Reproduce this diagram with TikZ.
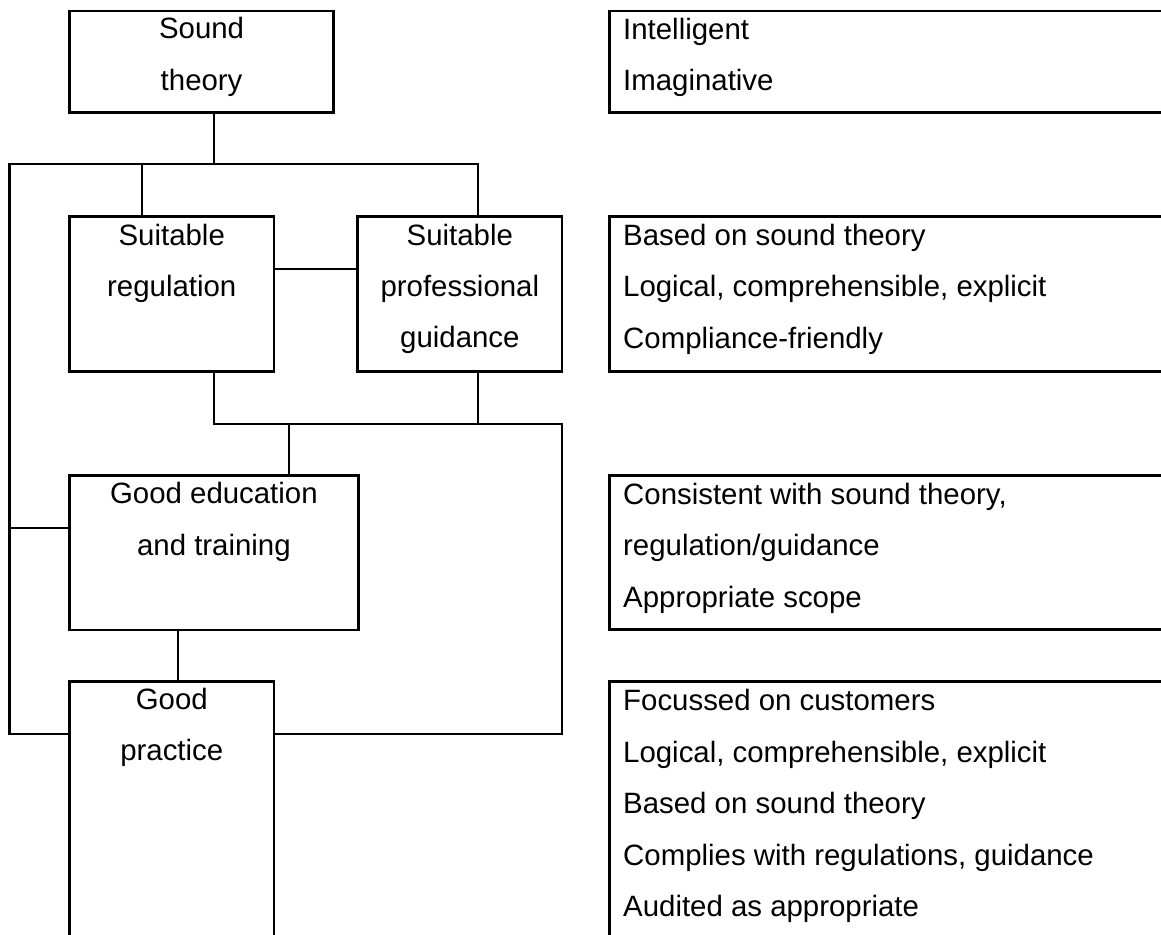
\documentclass[tikz,border=0pt]{standalone}
\usepackage{fontspec}
\setmainfont{Liberation Sans}
\begin{document}
\begin{tikzpicture}[x=1pt,y=-1pt,
  box/.style={draw, line width=2.5pt, rectangle, inner sep=0pt, outer sep=0pt, anchor=north west},
  ctext/.style={anchor=north, align=center, inner sep=0pt, font=\fontsize{29.4}{51.3}\selectfont},
  ltext/.style={anchor=north west, align=left, inner sep=0pt, font=\fontsize{29.4}{51.4}\selectfont},
  conn/.style={line width=2.5pt}]
\useasboundingbox (0,0) rectangle (1161,934);
\clip (0,0) rectangle (1161,934);

% left boxes
\node[box, minimum width=264.2pt, minimum height=101.7pt] (st)  at (69.5,11) {};
\node[box, minimum width=204.5pt, minimum height=155pt]   (reg) at (69.5,216.7) {};
\node[box, minimum width=204.3pt, minimum height=155pt]   (gd)  at (357.7,216.7) {};
\node[box, minimum width=288.8pt, minimum height=154.3pt] (edu) at (69.5,475.7) {};
\node[box, minimum width=204.5pt, minimum height=400pt]   (gp)  at (69.5,681.3) {};

% right boxes (run off the page)
\node[box, minimum width=700pt, minimum height=101.7pt] (r1) at (609.7,11) {};
\node[box, minimum width=700pt, minimum height=154.8pt] (r2) at (609.7,216.7) {};
\node[box, minimum width=700pt, minimum height=153.8pt] (r3) at (609.7,475.7) {};
\node[box, minimum width=700pt, minimum height=400pt]   (r4) at (609.7,681.7) {};

% texts
\node[ctext] (stT)  at (st.north)  {\rule{0pt}{27.6pt}Sound\\theory};
\node[ctext] (regT) at (reg.north) {\rule{0pt}{28.2pt}Suitable\\regulation};
\node[ctext] (gdT)  at (gd.north)  {\rule{0pt}{28.2pt}Suitable\\professional\\guidance};
\node[ctext] (eduT) at (edu.north) {\rule{0pt}{27.8pt}Good education\\and training};
\node[ctext] (gpT)  at (gp.north)  {\rule{0pt}{28pt}Good\\practice};

\node[ltext] (r1T) at ([xshift=13.3pt]r1.north west) {\rule{0pt}{28.3pt}Intelligent\\Imaginative};
\node[ltext] (r2T) at ([xshift=13.3pt]r2.north west) {\rule{0pt}{28.4pt}Based on sound theory\\Logical, comprehensible, explicit\\Compliance-friendly};
\node[ltext] (r3T) at ([xshift=13.3pt]r3.north west) {\rule{0pt}{28.4pt}Consistent with sound theory,\\regulation/guidance\\Appropriate scope};
\node[ltext] (r4T) at ([xshift=13.3pt]r4.north west) {\rule{0pt}{29pt}Focussed on customers\\Logical, comprehensible, explicit\\Based on sound theory\\Complies with regulations, guidance\\Audited as appropriate};

% junction coordinates
\coordinate (cTop)  at (214,164);
\coordinate (cTL)   at (9.5,164);
\coordinate (cTR)   at (478,164);
\coordinate (cRegB) at (142,164);
\coordinate (cRG)   at (300,269);
\coordinate (cBL)   at (9.5,734);
\coordinate (cMidL) at (214,424);
\coordinate (cMidR) at (562,424);
\coordinate (cBR)   at (562,734);
\coordinate (cEdu)  at (289,424);
\coordinate (cEduL) at (9.5,528);
\coordinate (cGp)   at (178,656);

% connectors
\draw[conn] (st.south -| cTop) -- (cTop);
\draw[conn] (gp.west |- cBL) -- (cBL) -- (cTL) -- (cTR) -- (cTR |- gd.north);
\draw[conn] (cRegB) -- (cRegB |- reg.north);
\draw[conn] (reg.east |- cRG) -- (gd.west |- cRG);
\draw[conn] (cMidL |- reg.south) -- (cMidL) -- (cMidR) -- (cBR) -- (gp.east |- cBR);
\draw[conn] (cTR |- gd.south) -- (cTR |- cMidL);
\draw[conn] (cEdu) -- (cEdu |- edu.north);
\draw[conn] (cEduL) -- (edu.west |- cEduL);
\draw[conn] (cGp |- edu.south) -- (cGp |- gp.north);
\end{tikzpicture}
\end{document}
